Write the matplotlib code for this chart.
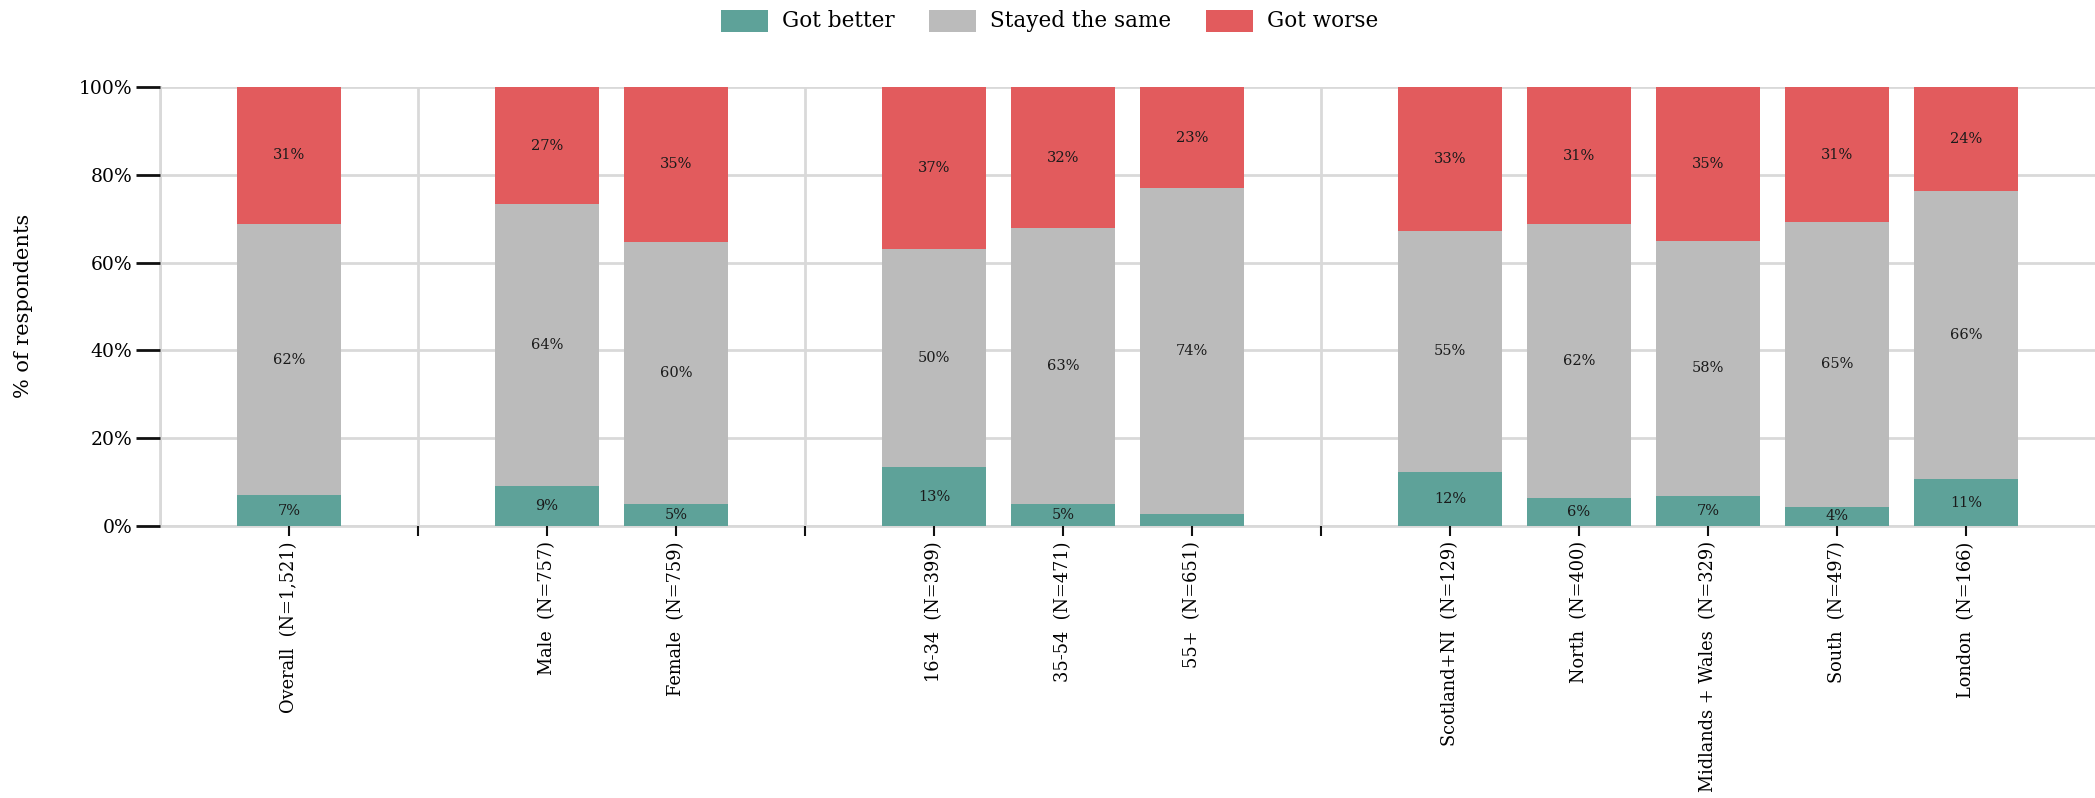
import matplotlib
matplotlib.use("Agg")
import matplotlib.pyplot as plt
from matplotlib.patches import Rectangle
from matplotlib.ticker import FuncFormatter

# ---- data -------------------------------------------------------------
categories = [
    "Overall  (N=1,521)",
    "Male  (N=757)", "Female  (N=759)",
    "16-34  (N=399)", "35-54  (N=471)", "55+  (N=651)",
    "Scotland+NI  (N=129)", "North  (N=400)", "Midlands + Wales  (N=329)",
    "South  (N=497)", "London  (N=166)",
]
group_sizes = [1, 2, 3, 5]

got_better = [7.0, 9.1, 5.1, 13.4, 5.0, 2.7, 12.4, 6.4, 6.8, 4.4, 10.6]
stayed_same = [61.8, 64.2, 59.6, 49.6, 62.8, 74.2, 54.8, 62.3, 58.2, 64.8, 65.8]
got_worse = [31.2, 26.7, 35.3, 37.0, 32.2, 23.1, 32.8, 31.3, 35.0, 30.8, 23.6]

series_names = ["Got better", "Stayed the same", "Got worse"]
series_colors = ["#5ea299", "#bbbbbb", "#e25b5d"]

y_ticks = [0, 20, 40, 60, 80, 100]

# ---- style ------------------------------------------------------------
plt.rcParams["font.family"] = ["DejaVu Serif"]
W, H = 2095, 798
fig = plt.figure(figsize=(W / 100, H / 100), dpi=100)
ax = fig.add_axes([160 / W, 1 - 526 / H, 1 - 160 / W, (526 - 87) / H])

# bar slots with one empty slot between groups
positions, separators = [], []
slot = 1
for gi, n in enumerate(group_sizes):
    for _ in range(n):
        positions.append(slot)
        slot += 1
    if gi < len(group_sizes) - 1:
        separators.append(slot)
        slot += 1

bar_w = 0.8
bottom = [0.0] * len(categories)
for name, vals, col in zip(series_names, [got_better, stayed_same, got_worse], series_colors):
    ax.bar(positions, vals, width=bar_w, bottom=bottom, color=col, label=name,
           zorder=3, linewidth=0)
    for x, b, v in zip(positions, bottom, vals):
        if v >= 3.5:
            ax.text(x, b + v / 2, f"{round(v)}%", ha="center", va="center",
                    fontsize=10.5, color="#1a1a1a", zorder=4)
    bottom = [b + v for b, v in zip(bottom, vals)]

# ---- axes -------------------------------------------------------------
ax.set_xlim(0, slot)
ax.set_ylim(0, 100)

grid_col = "#d9d9d9"
ax.set_yticks(y_ticks)
ax.yaxis.set_major_formatter(FuncFormatter(lambda v, _: f"{v:.0f}%"))
for y in y_ticks:
    ax.axhline(y, color=grid_col, lw=2, zorder=1)
for x in [0] + separators:
    ax.axvline(x, color=grid_col, lw=2, zorder=1)

ax.set_xticks(positions + separators)
ax.set_xticklabels(categories + [""] * len(separators), rotation=90,
                   ha="center", va="top", fontsize=12.8)
ax.tick_params(axis="x", length=7, width=1.5, color="#111111", pad=4)
ax.tick_params(axis="y", length=17, width=2, color="#111111", pad=3,
               labelsize=13.5)

for s in ["top", "right"]:
    ax.spines[s].set_visible(False)
for s in ["left", "bottom"]:
    ax.spines[s].set_color(grid_col)
    ax.spines[s].set_linewidth(2)
    ax.spines[s].set_zorder(1)

fig.text(24 / W, 1 - 306 / H, "% of respondents", rotation=90,
         ha="center", va="center", fontsize=15)

# ---- legend -----------------------------------------------------------
legend_x = [721, 929, 1206]
for lx, name, col in zip(legend_x, series_names, series_colors):
    fig.add_artist(Rectangle((lx / W, 1 - 32 / H), 47 / W, 22 / H,
                             transform=fig.transFigure, color=col, lw=0))
    fig.text((lx + 61) / W, 1 - 21 / H, name, ha="left", va="center",
             fontsize=15.5)

fig.savefig("out.png", dpi=100)
